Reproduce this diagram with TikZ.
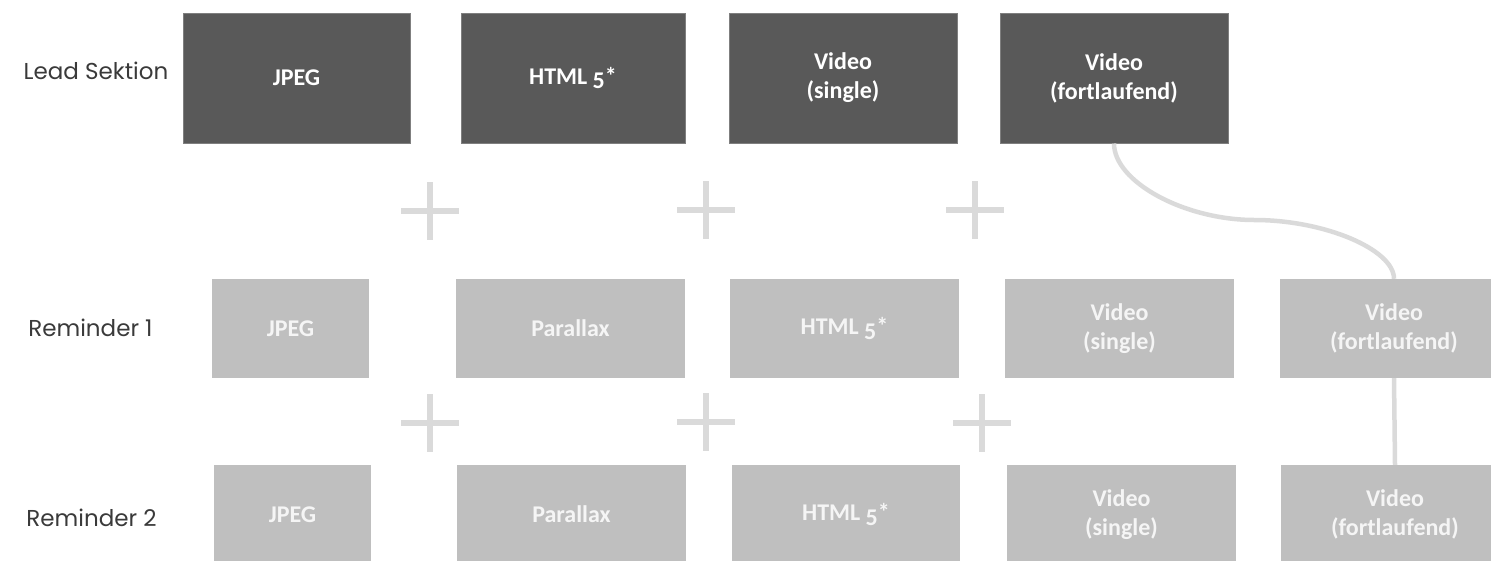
\documentclass[tikz,border=0pt]{standalone}
\usepackage{fontspec}
\newfontfamily\boxfont{Carlito}
\newfontfamily\lblfont{Poppins}
\definecolor{leadfill}{HTML}{595959}
\definecolor{leadline}{HTML}{7F7F7F}
\definecolor{remfill}{HTML}{BFBFBF}
\definecolor{plusgray}{HTML}{DADADA}
\definecolor{lbltext}{HTML}{3A3A3A}
\newcommand{\htmlfive}{HTML \raisebox{-0.17em}{5}*}
\tikzset{
  leadbox/.style={rectangle, fill=leadfill, draw=leadline, line width=1pt,
    minimum height=130pt, text=white, align=center,
    font=\boxfont\bfseries\fontsize{24}{29}\selectfont, inner sep=0pt},
  rembox/.style={rectangle, fill=remfill, minimum height=99pt,
    text=white!96!black, align=center,
    font=\boxfont\bfseries\fontsize{24}{29}\selectfont, inner sep=0pt},
  rowlabel/.style={anchor=base, text=lbltext, inner sep=0pt,
    font=\lblfont\fontsize{23}{27}\selectfont},
  plussign/.style={draw=plusgray, line width=6.5pt},
  conn/.style={draw=plusgray, line width=4.5pt}
}
\begin{document}
\begin{tikzpicture}[x=1pt,y=-1pt]
\useasboundingbox (0,0) rectangle (1491,560);
\clip (0,0) rectangle (1491,560);
% row labels
\node[rowlabel] (lbl0) at (96,79) {Lead Sektion};
\node[rowlabel] (lbl1) at (90.5,336) {Reminder 1};
\node[rowlabel] (lbl2) at (91.5,526) {Reminder 2};
\coordinate (m) at (1254.5,220);
% lead row
\node[leadbox, minimum width=227pt] (l1) at (296.5,78) {JPEG};
\node[leadbox, minimum width=224pt] (l2) at (573,78) {\htmlfive};
\node[leadbox, minimum width=228pt] (l3) at (843,78) {Video\\(single)};
\node[leadbox, minimum width=228pt] (l4) at (1114,78) {Video\\(fortlaufend)};
% reminder 1
\node[rembox, minimum width=157pt] (a1) at (290.5,328.5) {JPEG};
\node[rembox, minimum width=229pt] (a2) at (570.5,328.5) {Parallax};
\node[rembox, minimum width=229pt] (a3) at (844.5,328.5) {\htmlfive};
\node[rembox, minimum width=229pt] (a4) at (1119.5,328.5) {Video\\(single)};
\node[rembox, minimum width=228pt] (a5) at (1394,328.5) {Video\\(fortlaufend)};
% reminder 2
\node[rembox, minimum width=157pt] (b1) at (292.5,514.5) {JPEG};
\node[rembox, minimum width=229pt] (b2) at (571.5,514.5) {Parallax};
\node[rembox, minimum width=228pt] (b3) at (846,514.5) {\htmlfive};
\node[rembox, minimum width=229pt] (b4) at (1121.5,514.5) {Video\\(single)};
\node[rembox, minimum width=228pt] (b5) at (1395,514.5) {Video\\(fortlaufend)};
% plus signs
\foreach \px/\py in {430/211, 706/210, 975/210, 430/423, 706/422, 982/423}{
  \draw[plussign] (\px-29,\py) -- (\px+29,\py) (\px,\py-29) -- (\px,\py+29);
}
% connectors
\draw[conn] (l4.south) .. controls +(0,38.5) and +(-69.75,0) .. (m)
  .. controls +(69.75,0) and +(0,-29.5) .. (a5.north);
\draw[conn] (a5.south) -- (b5.north);
\end{tikzpicture}
\end{document}
